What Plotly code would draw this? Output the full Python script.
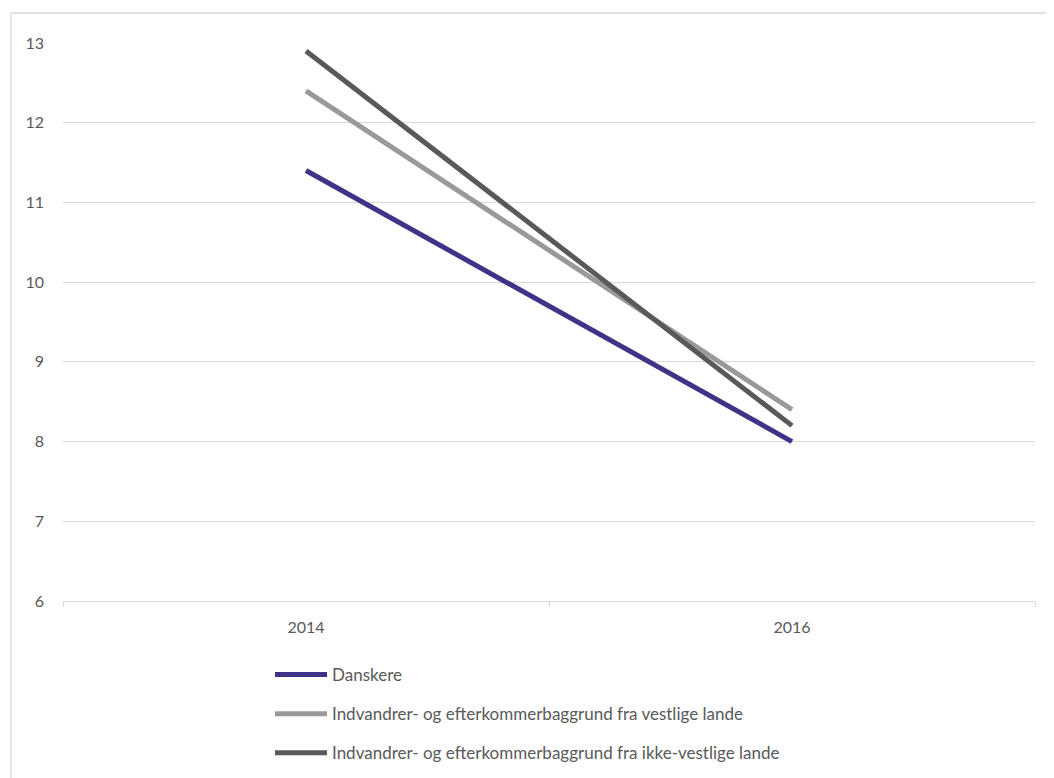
import plotly.graph_objects as go

years = ["2014", "2016"]
series_names = [
    "Danskere",
    "Indvandrer- og efterkommerbaggrund fra vestlige lande",
    "Indvandrer- og efterkommerbaggrund fra ikke-vestlige lande",
]
danskere = [11.4, 8.0]
vestlige = [12.4, 8.4]
ikke_vestlige = [12.9, 8.2]
y_ticks = [6, 7, 8, 9, 10, 11, 12, 13]

colors = ["#3d3387", "#999999", "#595959"]
values = [danskere, vestlige, ikke_vestlige]

OFF = 8  # default body margin of the html page
W, H = 1054 - OFF, 778 - OFF
# plot area in page pixels
PX0, PX1, PY0, PY1 = 63, 1035, 43, 601
L, T = PX0 - OFF, PY0 - OFF
R, B = W - (PX1 - OFF), H - (PY1 - OFF)
pw, ph = PX1 - PX0, PY1 - PY0

def px_x(p):
    return (p - PX0) / pw

def px_y(p):
    return (PY1 - p) / ph

fig = go.Figure()
for i, (name, vals, c) in enumerate(zip(series_names, values, colors)):
    fig.add_trace(go.Scatter(
        x=years, y=vals, name=name, mode="lines",
        line=dict(color=c, width=5),
        legendgroup=f"g{i}",
    ))

font_family = "Lato, 'Open Sans', sans-serif"
fig.update_layout(
    width=W, height=H,
    margin=dict(l=L, r=R, t=T, b=B, pad=0, autoexpand=False),
    plot_bgcolor="white", paper_bgcolor="white",
    font=dict(family=font_family, size=16, color="#595959"),
    showlegend=True,
    legend=dict(
        orientation="v", x=px_x(270), xanchor="left",
        y=px_y(657), yanchor="top",
        font=dict(size=17, color="#595959"),
        traceorder="grouped", tracegroupgap=14,
        itemwidth=52,
        bgcolor="rgba(0,0,0,0)",
    ),
    xaxis=dict(
        type="category", range=[-0.5, 1.5],
        showgrid=False, showline=True, linecolor="#d9d9d9", linewidth=1.3,
        ticks="outside", tickson="boundaries", ticklen=5, tickcolor="#d9d9d9",
        tickwidth=1.3, ticklabelstandoff=12, fixedrange=True, automargin=False,
    ),
    yaxis=dict(
        range=[6, 13], tickvals=y_ticks,
        showgrid=True, gridcolor="#d9d9d9", gridwidth=1.3,
        zeroline=False, showline=False, ticks="",
        ticklabelstandoff=18, fixedrange=True, automargin=False,
    ),
    shapes=[dict(
        type="rect", xref="paper", yref="paper",
        x0=px_x(11), x1=px_x(1062), y0=px_y(790), y1=px_y(13),
        line=dict(color="#d9d9d9", width=1.3), layer="below",
    )],
)

fig.write_html("out.html")
